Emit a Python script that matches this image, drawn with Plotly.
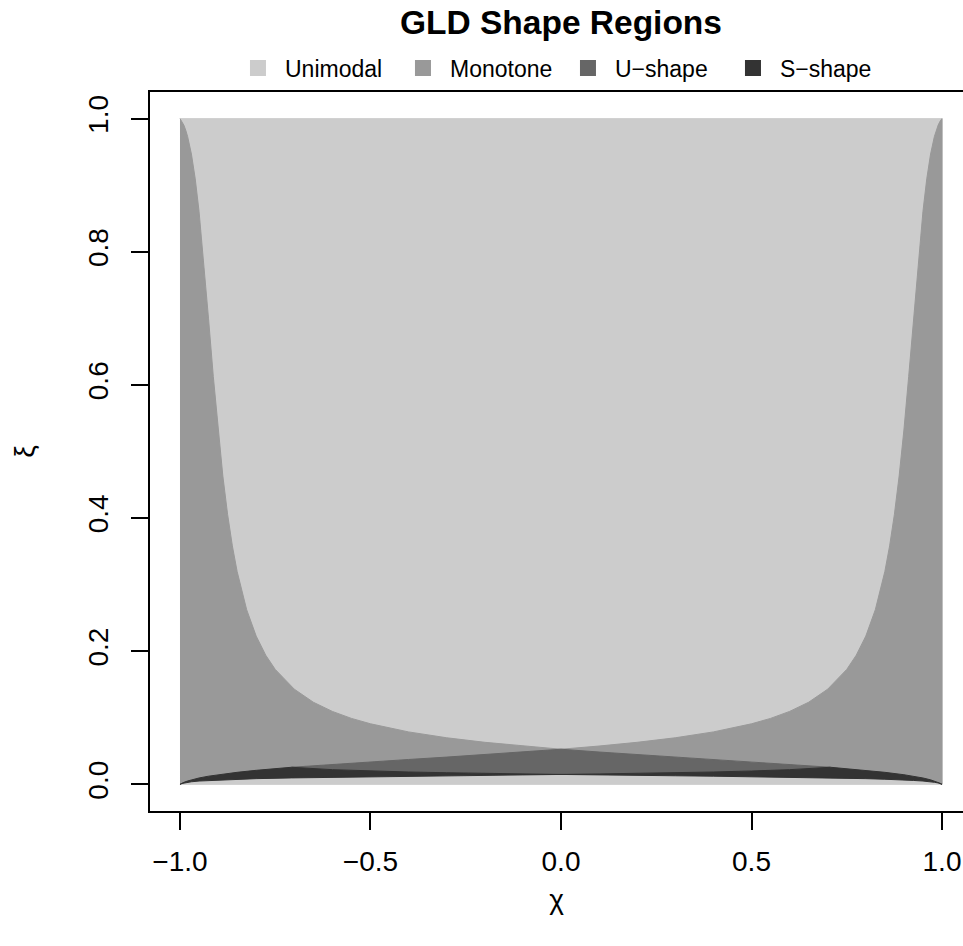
import plotly.graph_objects as go

# ---------------- data ----------------
region_names = ["Unimodal", "Monotone", "U\u2212shape", "S\u2212shape"]
region_colors = ["#CCCCCC", "#999999", "#666666", "#333333"]

# Unimodal: whole (chi, xi) domain
unimodal_chi = [-1.0, 1.0, 1.0, -1.0]
unimodal_xi = [0.0, 0.0, 1.0, 1.0]

# Monotone: upper boundary (towards unimodal)
mono_upper_chi = [-1.0, -0.995, -0.99, -0.985, -0.98, -0.97, -0.96, -0.95, -0.9375, -0.925,
                  -0.9125, -0.9, -0.8875, -0.875, -0.8625, -0.85, -0.825, -0.8, -0.775, -0.75,
                  -0.7, -0.65, -0.6, -0.55, -0.5, -0.4, -0.3, -0.2, -0.1, 0.0,
                  0.1, 0.2, 0.3, 0.4, 0.5, 0.55, 0.6, 0.65, 0.7, 0.75,
                  0.775, 0.8, 0.825, 0.85, 0.8625, 0.875, 0.8875, 0.9, 0.9125, 0.925,
                  0.9375, 0.95, 0.96, 0.97, 0.98, 0.985, 0.99, 0.995, 1.0]
mono_upper_xi = [1.0, 0.9961, 0.9904, 0.9828, 0.9731, 0.9468, 0.9096, 0.8608, 0.7851, 0.6992,
                 0.6124, 0.5323, 0.4631, 0.4054, 0.3582, 0.3198, 0.2624, 0.2227, 0.1941, 0.1727,
                 0.1430, 0.1234, 0.1096, 0.0991, 0.0910, 0.0788, 0.0700, 0.0632, 0.0576, 0.0528,
                 0.0576, 0.0632, 0.0700, 0.0788, 0.0910, 0.0991, 0.1096, 0.1234, 0.1430, 0.1727,
                 0.1941, 0.2227, 0.2624, 0.3198, 0.3582, 0.4054, 0.4631, 0.5323, 0.6124, 0.6992,
                 0.7851, 0.8608, 0.9096, 0.9468, 0.9731, 0.9828, 0.9904, 0.9961, 1.0]

# Monotone: lower boundary (towards U-shape / S-shape)
mono_lower_chi = [-1.0, -0.995, -0.99, -0.98, -0.97, -0.95, -0.925, -0.9, -0.85, -0.8,
                  -0.7071, -0.6, -0.5, -0.4, -0.3, -0.2, -0.1, 0.0,
                  0.1, 0.2, 0.3, 0.4, 0.5, 0.6, 0.7071,
                  0.8, 0.85, 0.9, 0.925, 0.95, 0.97, 0.98, 0.99, 0.995, 1.0]
mono_lower_xi = [0.0, 0.0017, 0.0030, 0.0051, 0.0068, 0.0096, 0.0123, 0.0145, 0.0181, 0.0211,
                 0.0257, 0.0301, 0.0339, 0.0374, 0.0410, 0.0447, 0.0486, 0.0528,
                 0.0486, 0.0447, 0.0410, 0.0374, 0.0339, 0.0301, 0.0257,
                 0.0211, 0.0181, 0.0145, 0.0123, 0.0096, 0.0068, 0.0051, 0.0030, 0.0017, 0.0]

# U-shape band
ushape_chi = [-0.7071, -0.6, -0.5, -0.4, -0.3, -0.2, -0.1, 0.0, 0.1, 0.2, 0.3, 0.4, 0.5, 0.6, 0.7071]
ushape_top_xi = [0.0257, 0.0301, 0.0339, 0.0374, 0.0410, 0.0447, 0.0486, 0.0528,
                 0.0486, 0.0447, 0.0410, 0.0374, 0.0339, 0.0301, 0.0257]
ushape_bottom_xi = [0.0257, 0.0221, 0.0201, 0.0186, 0.0175, 0.0165, 0.0157, 0.0149,
                    0.0157, 0.0165, 0.0175, 0.0186, 0.0201, 0.0221, 0.0257]

# S-shape band
sshape_chi = [-1.0, -0.995, -0.99, -0.98, -0.97, -0.95, -0.925, -0.9, -0.85, -0.8,
              -0.7071, -0.6, -0.5, -0.4, -0.3, -0.2, -0.1, 0.0,
              0.1, 0.2, 0.3, 0.4, 0.5, 0.6, 0.7071,
              0.8, 0.85, 0.9, 0.925, 0.95, 0.97, 0.98, 0.99, 0.995, 1.0]
sshape_top_xi = [0.0, 0.0017, 0.0030, 0.0051, 0.0068, 0.0096, 0.0123, 0.0145, 0.0181, 0.0211,
                 0.0257, 0.0221, 0.0201, 0.0186, 0.0175, 0.0165, 0.0157, 0.0149,
                 0.0157, 0.0165, 0.0175, 0.0186, 0.0201, 0.0221, 0.0257,
                 0.0211, 0.0181, 0.0145, 0.0123, 0.0096, 0.0068, 0.0051, 0.0030, 0.0017, 0.0]
sshape_bottom_xi = [0.0, 0.0013, 0.0021, 0.0031, 0.0039, 0.0050, 0.0059, 0.0067, 0.0077, 0.0086,
                    0.0097, 0.0107, 0.0115, 0.0123, 0.0129, 0.0136, 0.0142, 0.0149,
                    0.0142, 0.0136, 0.0129, 0.0123, 0.0115, 0.0107, 0.0097,
                    0.0086, 0.0077, 0.0067, 0.0059, 0.0050, 0.0039, 0.0031, 0.0021, 0.0013, 0.0]

x_ticks = [-1.0, -0.5, 0.0, 0.5, 1.0]
x_ticklabels = ["\u22121.0", "\u22120.5", "0.0", "0.5", "1.0"]
y_ticks = [0.0, 0.2, 0.4, 0.6, 0.8, 1.0]
y_ticklabels = ["0.0", "0.2", "0.4", "0.6", "0.8", "1.0"]

# ---------------- figure ----------------
FONT = "Liberation Sans, Arial, Helvetica, sans-serif"
fig = go.Figure()

polys = [
    (unimodal_chi, unimodal_xi),
    (mono_upper_chi + mono_lower_chi[::-1], mono_upper_xi + mono_lower_xi[::-1]),
    (ushape_chi + ushape_chi[::-1], ushape_top_xi + ushape_bottom_xi[::-1]),
    (sshape_chi + sshape_chi[::-1], sshape_top_xi + sshape_bottom_xi[::-1]),
]
for (px, py), name, col in zip(polys, region_names, region_colors):
    fig.add_trace(go.Scatter(x=px, y=py, fill="toself", fillcolor=col, mode="lines",
                             line=dict(color=col, width=1), name=name, showlegend=False,
                             hoverinfo="skip"))

# legend entries as squares
for name, col in zip(region_names, region_colors):
    fig.add_trace(go.Scatter(x=[None], y=[None], mode="markers", name=name,
                             marker=dict(symbol="square", size=18, color=col,
                                         line=dict(width=0))))

axis_common = dict(showgrid=False, zeroline=False, ticks="outside", ticklen=17, tickwidth=1.5,
                   tickcolor="black", tickfont=dict(family=FONT, size=28, color="black"),
                   showline=True, linecolor="black", linewidth=1.5)

# The box of the original runs past the right edge of the picture (no right border seen)
fig.update_layout(
    width=963, height=946,
    margin=dict(l=150, r=0, t=92, b=135),
    paper_bgcolor="white", plot_bgcolor="white",
    title=dict(text="<b>GLD Shape Regions</b>", font=dict(family=FONT, size=33.5, color="black"),
               x=0.5055, xref="paper", xanchor="center", y=1 - 22 / 946, yanchor="middle"),
    legend=dict(orientation="h", x=0.0996, xanchor="left", y=1.0334, yanchor="middle",
                font=dict(family=FONT, size=23, color="black"), bgcolor="rgba(0,0,0,0)",
                itemwidth=44, entrywidth=106),
    xaxis=dict(range=[-1.0787, 1.0551], tickvals=x_ticks, ticktext=x_ticklabels,
               mirror=True, ticklabelstandoff=8,
               title=dict(text="\u03c7", font=dict(family=FONT, size=28, color="black"),
                          standoff=13),
               **axis_common),
    yaxis=dict(range=[-0.04, 1.04], tickvals=y_ticks, ticktext=y_ticklabels,
               tickangle=-90, ticklabelstandoff=12,
               title=dict(text="\u03be", font=dict(family=FONT, size=28, color="black"),
                          standoff=40),
               **axis_common),
    shapes=[dict(type="rect", xref="paper", yref="paper", x0=0.9985, x1=1.05,
                 y0=0.003, y1=0.997, fillcolor="white", line=dict(width=0), layer="above")],
)

fig.write_html("out.html")
